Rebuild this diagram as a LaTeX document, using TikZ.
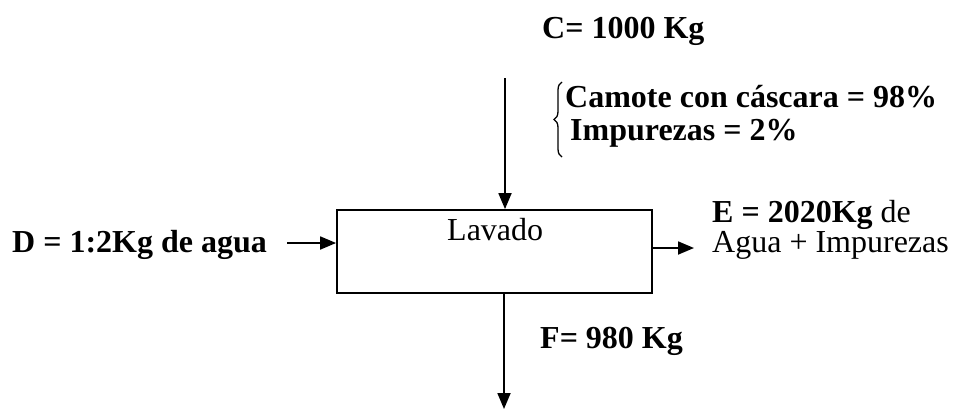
\documentclass[tikz,border=0pt]{standalone}
\usepackage{fontspec}
\setmainfont{Liberation Serif}
\usetikzlibrary{arrows.meta,decorations.pathreplacing}
\tikzset{
  process box/.style={draw,line width=1.8pt,minimum width=315pt,
    minimum height=83pt,inner sep=0pt},
  flow arrow/.style={-{Triangle[length=16pt,width=13pt]},line width=1.8pt},
  stream label/.style={anchor=base west,inner sep=0pt,align=left,
    font=\fontsize{32}{33}\selectfont\bfseries},
  stream note/.style={stream label,font=\fontsize{32}{30}\selectfont},
  comp brace/.style={decorate,decoration={brace,amplitude=8pt},line width=1.3pt},
}

\begin{document}
\begin{tikzpicture}[x=1pt,y=-1pt]
  \useasboundingbox (0,0) rectangle (956,410);

  % Washing stage
  \node[process box] (lavado) at (494.5,251.5) {};
  \node[stream note] (lavadoText) at (447,240) {Lavado};

  % Feed C from above
  \node[stream label] (cLabel) at (542,38) {C= 1000 Kg};
  \coordinate (cIn) at (505,78);
  \draw[flow arrow] (cIn) -- (cIn |- lavado.north);
  \coordinate (braceBot) at (562,157);
  \coordinate (braceTop) at (562,82);
  \draw[comp brace] (braceBot) -- (braceTop);
  \node[stream label] (cComp) at (565,140)
    {Camote con cáscara = 98\%\\\hspace*{5pt}Impurezas = 2\%};

  % Water D from the left
  \node[stream label] (dLabel) at (12,252) {D = 1:2Kg de agua};
  \coordinate (dIn) at (287,243);
  \draw[flow arrow] (dIn) -- (dIn -| lavado.west);

  % Waste water E to the right
  \coordinate (eOut) at (694,248);
  \draw[flow arrow] (eOut -| lavado.east) -- (eOut);
  \node[stream note] (eLabel) at (712,252)
    {\textbf{E = 2020Kg} de\\Agua + Impurezas};

  % Product F downwards
  \coordinate (fOut) at (504,409);
  \draw[flow arrow] (fOut |- lavado.south) -- (fOut);
  \node[stream label] (fLabel) at (540,348) {F= 980 Kg};
\end{tikzpicture}
\end{document}
